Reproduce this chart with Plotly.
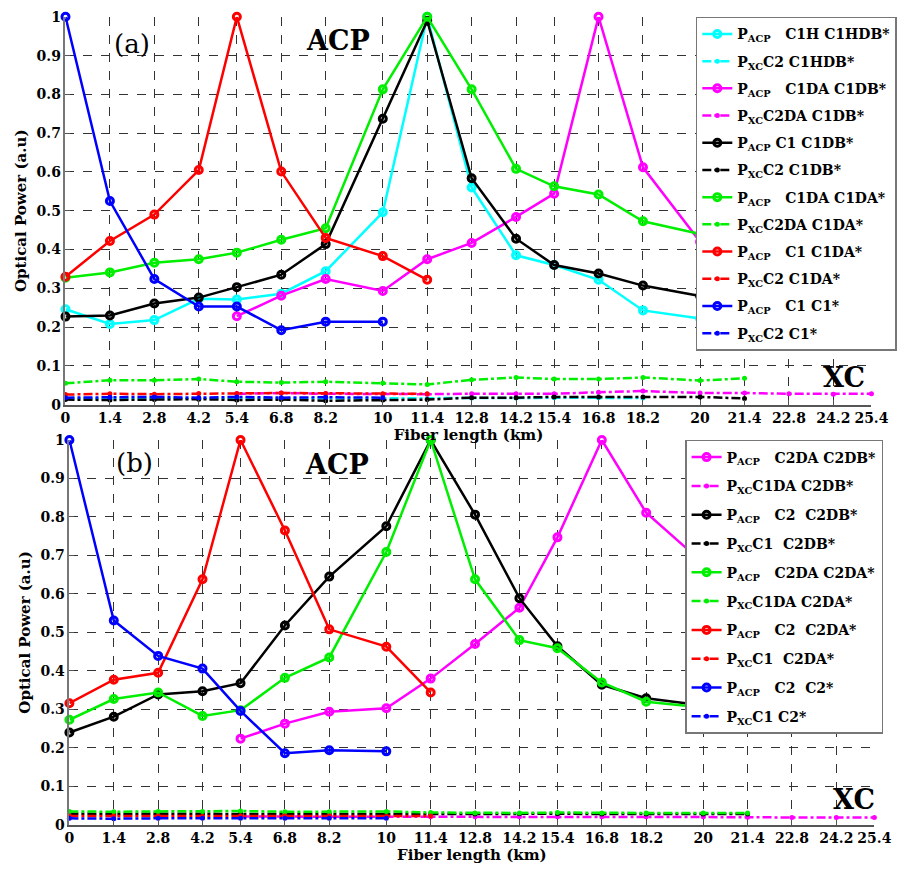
import plotly.graph_objects as go

# ---------------- data ----------------
fiber_ticks = [0, 1.4, 2.8, 4.2, 5.4, 6.8, 8.2, 10, 11.4, 12.8, 14.2, 15.4,
               16.8, 18.2, 20, 21.4, 22.8, 24.2, 25.4]
power_ticks = [0, 0.1, 0.2, 0.3, 0.4, 0.5, 0.6, 0.7, 0.8, 0.9, 1]
power_ticktext = ["0", "0.1", "0.2", "0.3", "0.4", "0.5", "0.6", "0.7", "0.8", "0.9", "1"]

x_0_10 = [0, 1.4, 2.8, 4.2, 5.4, 6.8, 8.2, 10]
x_0_114 = [0, 1.4, 2.8, 4.2, 5.4, 6.8, 8.2, 10, 11.4]
x_0_182 = [0, 1.4, 2.8, 4.2, 5.4, 6.8, 8.2, 10, 11.4, 12.8, 14.2, 15.4, 16.8, 18.2]
x_0_20 = x_0_182 + [20]
x_0_214 = x_0_20 + [21.4]
x_54_20 = [5.4, 6.8, 8.2, 10, 11.4, 12.8, 14.2, 15.4, 16.8, 18.2, 20]
x_54_254 = [5.4, 6.8, 8.2, 10, 11.4, 12.8, 14.2, 15.4, 16.8, 18.2, 20, 21.4, 22.8, 24.2, 25.4]

# panel (a): ACP
a_acp_c1h_c1hdb = [0.246, 0.208, 0.218, 0.273, 0.271, 0.286, 0.344, 0.496, 1.0,
                   0.56, 0.385, 0.36, 0.322, 0.243, 0.222]
a_acp_c1da_c1db = [0.228, 0.281, 0.324, 0.293, 0.375, 0.417, 0.484, 0.544, 1.0, 0.612, 0.42]
a_acp_c1_c1db = [0.227, 0.23, 0.261, 0.276, 0.303, 0.335, 0.414, 0.737, 0.99,
                 0.584, 0.428, 0.36, 0.338, 0.307, 0.28]
a_acp_c1da_c1da = [0.327, 0.341, 0.366, 0.375, 0.392, 0.425, 0.455, 0.813, 1.0,
                   0.813, 0.608, 0.563, 0.542, 0.473, 0.44]
a_acp_c1_c1da = [0.33, 0.422, 0.49, 0.605, 1.0, 0.601, 0.43, 0.383, 0.322]
a_acp_c1_c1 = [1.0, 0.525, 0.324, 0.253, 0.253, 0.192, 0.214, 0.214]

# panel (a): XC
a_xc_c2_c1hdb = [0.016, 0.016, 0.017, 0.016, 0.017, 0.016, 0.016, 0.016, 0.016,
                 0.017, 0.017, 0.018, 0.018, 0.017]
a_xc_c2da_c1db = [0.028, 0.03, 0.028, 0.027, 0.027, 0.028, 0.028, 0.028, 0.032,
                  0.035, 0.03, 0.03, 0.028, 0.027, 0.028]
a_xc_c2_c1db = [0.013, 0.012, 0.013, 0.014, 0.012, 0.013, 0.01, 0.012, 0.013,
                0.018, 0.018, 0.02, 0.02, 0.02, 0.02, 0.016]
a_xc_c2da_c1da = [0.055, 0.063, 0.063, 0.066, 0.059, 0.057, 0.059, 0.056, 0.052,
                  0.064, 0.07, 0.066, 0.066, 0.07, 0.062, 0.068]
a_xc_c2_c1da = [0.026, 0.028, 0.027, 0.029, 0.029, 0.03, 0.029, 0.028, 0.028]
a_xc_c2_c1 = [0.018, 0.019, 0.02, 0.018, 0.02, 0.018, 0.019, 0.018]

# panel (b): ACP
b_acp_c2da_c2db = [0.224, 0.263, 0.294, 0.303, 0.38, 0.47, 0.564, 0.747, 1.0, 0.811, 0.68]
b_acp_c2_c2db = [0.24, 0.281, 0.339, 0.347, 0.368, 0.518, 0.645, 0.776, 1.0,
                 0.806, 0.589, 0.464, 0.364, 0.329, 0.31]
b_acp_c2da_c2da = [0.273, 0.327, 0.344, 0.283, 0.298, 0.382, 0.435, 0.709, 1.0,
                   0.638, 0.48, 0.459, 0.37, 0.32, 0.305]
b_acp_c2_c2da = [0.316, 0.377, 0.395, 0.638, 1.0, 0.765, 0.508, 0.463, 0.344]
b_acp_c2_c2 = [1.0, 0.531, 0.439, 0.406, 0.296, 0.186, 0.194, 0.191]

# panel (b): XC
b_xc_c1da_c2db = [0.022, 0.021, 0.021, 0.021, 0.021, 0.021, 0.021, 0.021, 0.021,
                  0.021, 0.021, 0.02, 0.019, 0.019, 0.019]
b_xc_c1_c2db = [0.029, 0.028, 0.029, 0.028, 0.029, 0.028, 0.028, 0.029, 0.028,
                0.028, 0.029, 0.029, 0.028, 0.028, 0.028, 0.028]
b_xc_c1da_c2da = [0.035, 0.034, 0.035, 0.035, 0.036, 0.034, 0.034, 0.035, 0.032,
                  0.031, 0.031, 0.032, 0.031, 0.031, 0.031, 0.031]
b_xc_c1_c2da = [0.023, 0.023, 0.023, 0.022, 0.023, 0.023, 0.023, 0.022, 0.023]
b_xc_c1_c2 = [0.017, 0.016, 0.017, 0.017, 0.017, 0.017, 0.017, 0.017]

# ---------------- styling ----------------
CYAN, MAGENTA, BLACK, GREEN, RED, BLUE = "#00ffff", "#ff00ff", "#000000", "#00ee00", "#ff0000", "#0000ff"
SERIF = "DejaVu Serif"
NB = "\u00a0"

fig = go.Figure()


def acp(x, y, color, name, legend, xa, ya, idx):
    fig.add_trace(go.Scatter(
        x=x, y=y, mode="lines+markers", name=name, legend=legend,
        legendgroup=f"{legend}{idx}", xaxis=xa, yaxis=ya, cliponaxis=False,
        line=dict(color=color, width=2.5),
        marker=dict(symbol="circle-open", size=7, color=color, line=dict(width=3, color=color)),
    ))


def xc(x, y, color, name, legend, xa, ya, idx):
    fig.add_trace(go.Scatter(
        x=x, y=y, mode="lines+markers", name=name, legend=legend,
        legendgroup=f"{legend}{idx}", xaxis=xa, yaxis=ya, cliponaxis=False,
        line=dict(color=color, width=2.5, dash="dashdot"),
        marker=dict(symbol="circle", size=5, color=color),
    ))


P_ACP = "P<sub>ACP</sub>"
P_XC = "P<sub>XC</sub>"

# panel (a)
acp(x_0_20, a_acp_c1h_c1hdb, CYAN, f"{P_ACP}{NB*3}C1H C1HDB*", "legend", "x", "y", 0)
xc(x_0_182, a_xc_c2_c1hdb, CYAN, f"{P_XC}C2 C1HDB*", "legend", "x", "y", 1)
acp(x_54_20, a_acp_c1da_c1db, MAGENTA, f"{P_ACP}{NB*3}C1DA C1DB*", "legend", "x", "y", 2)
xc(x_54_254, a_xc_c2da_c1db, MAGENTA, f"{P_XC}C2DA C1DB*", "legend", "x", "y", 3)
acp(x_0_20, a_acp_c1_c1db, BLACK, f"{P_ACP}{NB}C1 C1DB*", "legend", "x", "y", 4)
xc(x_0_214, a_xc_c2_c1db, BLACK, f"{P_XC}C2 C1DB*", "legend", "x", "y", 5)
acp(x_0_20, a_acp_c1da_c1da, GREEN, f"{P_ACP}{NB*3}C1DA C1DA*", "legend", "x", "y", 6)
xc(x_0_214, a_xc_c2da_c1da, GREEN, f"{P_XC}C2DA C1DA*", "legend", "x", "y", 7)
acp(x_0_114, a_acp_c1_c1da, RED, f"{P_ACP}{NB*3}C1 C1DA*", "legend", "x", "y", 8)
xc(x_0_114, a_xc_c2_c1da, RED, f"{P_XC}C2 C1DA*", "legend", "x", "y", 9)
acp(x_0_10, a_acp_c1_c1, BLUE, f"{P_ACP}{NB*3}C1 C1*", "legend", "x", "y", 10)
xc(x_0_10, a_xc_c2_c1, BLUE, f"{P_XC}C2 C1*", "legend", "x", "y", 11)

# panel (b)
acp(x_54_20, b_acp_c2da_c2db, MAGENTA, f"{P_ACP}{NB*3}C2DA C2DB*", "legend2", "x2", "y2", 0)
xc(x_54_254, b_xc_c1da_c2db, MAGENTA, f"{P_XC}C1DA C2DB*", "legend2", "x2", "y2", 1)
acp(x_0_20, b_acp_c2_c2db, BLACK, f"{P_ACP}{NB*3}C2{NB*2}C2DB*", "legend2", "x2", "y2", 2)
xc(x_0_214, b_xc_c1_c2db, BLACK, f"{P_XC}C1{NB*2}C2DB*", "legend2", "x2", "y2", 3)
acp(x_0_20, b_acp_c2da_c2da, GREEN, f"{P_ACP}{NB*3}C2DA C2DA*", "legend2", "x2", "y2", 4)
xc(x_0_214, b_xc_c1da_c2da, GREEN, f"{P_XC}C1DA C2DA*", "legend2", "x2", "y2", 5)
acp(x_0_114, b_acp_c2_c2da, RED, f"{P_ACP}{NB*3}C2{NB*2}C2DA*", "legend2", "x2", "y2", 6)
xc(x_0_114, b_xc_c1_c2da, RED, f"{P_XC}C1{NB*2}C2DA*", "legend2", "x2", "y2", 7)
acp(x_0_10, b_acp_c2_c2, BLUE, f"{P_ACP}{NB*3}C2{NB*2}C2*", "legend2", "x2", "y2", 8)
xc(x_0_10, b_xc_c1_c2, BLUE, f"{P_XC}C1 C2*", "legend2", "x2", "y2", 9)

W, H = 906, 879


def px_x(p):
    return p / W


def px_y(p):
    return 1 - p / H


tick_font = dict(family=SERIF, size=14, color="black", weight="bold")
title_font = dict(family=SERIF, size=15, color="black", weight="bold")

xaxis_common = dict(
    range=[0, 25.4], tickmode="array", tickvals=fiber_ticks,
    ticktext=[f"{v:g}" for v in fiber_ticks],
    showgrid=True, gridcolor="#333", griddash="dash", gridwidth=1,
    zeroline=False, showline=True, linecolor="#555", linewidth=1.5,
    ticks="inside", ticklen=5, tickcolor="#555",
    tickfont=tick_font, tickangle=0,
    title=dict(text="Fiber length (km)", font=title_font, standoff=2),
)
yaxis_common = dict(
    range=[0, 1], tickmode="array", tickvals=power_ticks, ticktext=power_ticktext,
    showgrid=True, gridcolor="#333", griddash="dash", gridwidth=1,
    zeroline=False, showline=True, linecolor="#777", linewidth=1.5,
    ticks="inside", ticklen=5, tickcolor="#555",
    tickfont=tick_font,
    title=dict(text="Optical Power (a.u)", font=title_font, standoff=6),
)

legend_font = dict(family=SERIF, size=14, color="black", weight="bold")
legend_common = dict(
    bgcolor="white", bordercolor="#777", borderwidth=1.5,
    font=legend_font, xanchor="left", yanchor="top", itemwidth=30,
)

fig.update_layout(
    width=W, height=H,
    margin=dict(l=0, r=0, t=0, b=0),
    paper_bgcolor="white", plot_bgcolor="white",
    showlegend=True,
    xaxis=dict(domain=[px_x(62), px_x(888)], anchor="y", **xaxis_common),
    yaxis=dict(domain=[px_y(404), px_y(9)], anchor="x", **yaxis_common),
    xaxis2=dict(domain=[px_x(66), px_x(891)], anchor="y2", **xaxis_common),
    yaxis2=dict(domain=[px_y(832), px_y(440)], anchor="x2", **yaxis_common),
    legend=dict(x=px_x(708), y=px_y(9), tracegroupgap=6, **legend_common),
    legend2=dict(x=px_x(697), y=px_y(440), tracegroupgap=7.6, **legend_common),
)

label_font = dict(family=SERIF, size=26, color="black")
big_font = dict(family=SERIF, size=27, color="black", weight="bold")
annotations = [
    dict(x=2.1, y=0.93, xref="x", yref="y", text="(a)", font=label_font, showarrow=False),
    dict(x=8.6, y=0.94, xref="x", yref="y", text="ACP", font=big_font, showarrow=False),
    dict(x=24.55, y=0.07, xref="x", yref="y", text="XC", font=big_font, showarrow=False),
    dict(x=2.05, y=0.94, xref="x2", yref="y2", text="(b)", font=label_font, showarrow=False),
    dict(x=8.45, y=0.936, xref="x2", yref="y2", text="ACP", font=big_font, showarrow=False),
    dict(x=24.75, y=0.066, xref="x2", yref="y2", text="XC", font=big_font, showarrow=False),
]
fig.update_layout(annotations=annotations)

fig.write_html("out.html")
